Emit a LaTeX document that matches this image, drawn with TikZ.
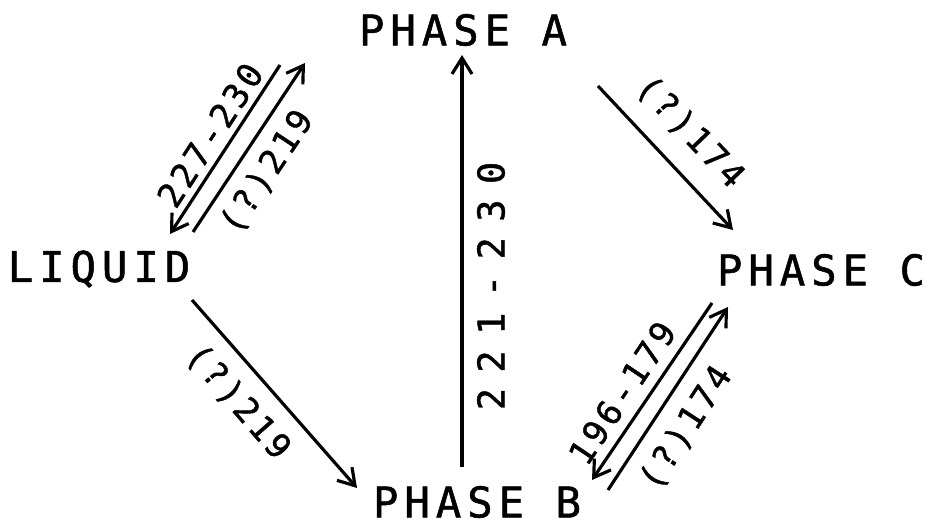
\documentclass[tikz,border=0pt]{standalone}
\usepackage{fontspec}
\newfontfamily\phasefont{DejaVu Sans Mono}[LetterSpace=14, FakeBold=1.2]
\newfontfamily\ratefont{DejaVu Sans Mono}[LetterSpace=10, FakeBold=1.2]
\newfontfamily\widefont{DejaVu Sans Mono}[LetterSpace=42, FakeBold=1.2]
\usetikzlibrary{arrows.meta}

\begin{document}
\begin{tikzpicture}[x=0.02cm, y=-0.02cm,
  phase/.style={inner sep=0pt, font=\phasefont\fontsize{24.1pt}{26pt}\selectfont},
  rate/.style={inner sep=0pt, font=\ratefont\fontsize{19.3pt}{21pt}\selectfont},
  vrate/.style={inner sep=0pt, font=\widefont\fontsize{21pt}{23pt}\selectfont},
  arr/.style={-{Straight Barb[length=0.32cm, width=0.4cm]}, line width=1.8pt}
]
\useasboundingbox (0,0) rectangle (932,526);

\node[phase] (liquid) at (99,269) {LIQUID};
\node[phase] (phaseA) at (463,30) {PHASE A};
\node[phase] (phaseB) at (477,502) {PHASE B};
\node[phase] (phaseC) at (821,270) {PHASE C};

\coordinate (lqA1) at (280,65);  \coordinate (lqA2) at (170,234);
\coordinate (lqA3) at (193,232); \coordinate (lqA4) at (305,63);
\coordinate (AC1) at (598,86);   \coordinate (AC2) at (733,230);
\coordinate (lqB1) at (192,300); \coordinate (lqB2) at (357,488);
\coordinate (BA1) at (462,467);  \coordinate (BA2) at (462,55);
\coordinate (CB1) at (712,303);  \coordinate (CB2) at (592,480);
\coordinate (CB3) at (608,490);  \coordinate (CB4) at (728,307);

\draw[arr] (lqA1) -- (lqA2);
\draw[arr] (lqA3) -- (lqA4);
\draw[arr] (AC1) -- (AC2);
\draw[arr] (lqB1) -- (lqB2);
\draw[arr] (BA1) -- (BA2);
\draw[arr] (CB1) -- (CB2);
\draw[arr] (CB3) -- (CB4);

\node[rate, rotate=56.9] (freezeA) at (210,135) {227-230};
\node[rate, rotate=56.5] (meltA) at (267,172) {(?)219};
\node[rate, rotate=-46.5] (AtoC) at (690,132) {(?)174};
\node[rate, rotate=-49] (meltB) at (238,402) {(?)219};
\node[rate, rotate=56.2] (CtoB) at (622,393) {196-179};
\node[rate, rotate=57] (BtoC) at (686,428) {(?)174};
\node[vrate, rotate=90] (BtoA) at (491,286) {221-230};

\end{tikzpicture}
\end{document}
